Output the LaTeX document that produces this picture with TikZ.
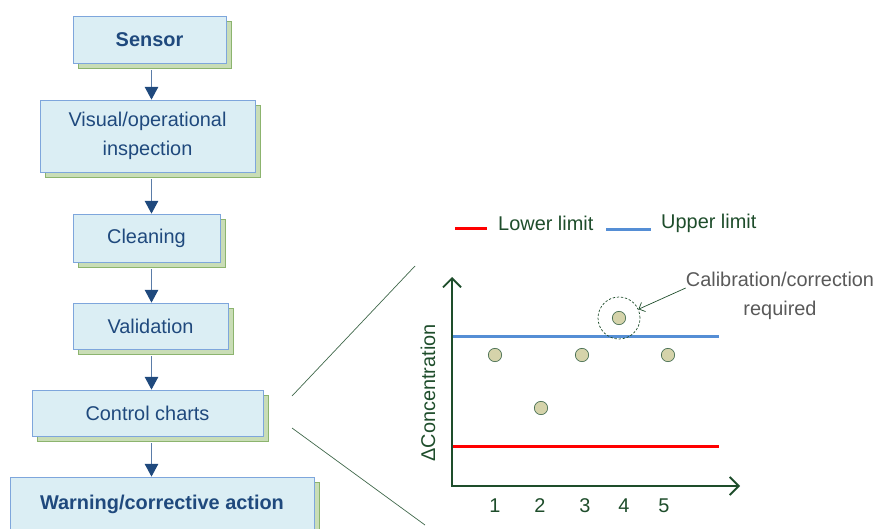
\documentclass[tikz,border=0pt]{standalone}
\usepackage{fontspec}
\setmainfont{Liberation Sans}
\usepackage{xcolor}
\definecolor{boxfill}{HTML}{DBEEF4}
\definecolor{boxline}{HTML}{7EA6DC}
\definecolor{boxtext}{HTML}{1F497D}
\definecolor{shadowfill}{HTML}{C9DDB6}
\definecolor{shadowline}{HTML}{8CB46E}
\definecolor{arrowline}{HTML}{5A7CA8}
\definecolor{axisgreen}{HTML}{1E4D2B}
\definecolor{upperblue}{HTML}{558ED5}
\definecolor{lowerred}{HTML}{FF0000}
\definecolor{dotfill}{HTML}{D5D3AA}
\definecolor{calloutgray}{HTML}{595959}
\usetikzlibrary{positioning,arrows.meta,shadows,calc}

\begin{document}
\begin{tikzpicture}[x=0.03cm, y=-0.03cm,
      box/.style={draw=boxline, fill=boxfill, line width=0.6pt, align=center, text=boxtext,
                  font=\fontsize{17}{25}\selectfont, inner sep=0pt,
                  copy shadow={shadow xshift=0.15cm, shadow yshift=-0.15cm,
                               fill=shadowfill, draw=shadowline, line width=0.6pt}},
      arr/.style={-{Triangle[length=0.38cm, width=0.4cm, color=boxtext]}, draw=arrowline, line width=1pt},
      axisarr/.style={{Straight Barb[length=0.27cm, width=0.54cm]}-{Straight Barb[length=0.27cm, width=0.54cm]},
                      axisgreen, line width=1.6pt},
      limit/.style={line width=0.09cm},
      dot/.style={circle, draw=axisgreen!80, fill=dotfill, line width=0.6pt, minimum size=0.4cm, inner sep=0pt},
      lbl/.style={font=\fontsize{17}{25}\selectfont, text=axisgreen, inner sep=0pt},
      zoomline/.style={axisgreen!85, line width=0.6pt},
      callarr/.style={-{Straight Barb[length=0.15cm, width=0.3cm]}, axisgreen, line width=0.6pt}]
    \useasboundingbox (0,0) rectangle (877,528);

    % flow chart
    \node[box, font=\fontsize{17}{25}\selectfont\bfseries, minimum width=4.59cm, minimum height=1.41cm]
         (sensor) at (149.5,39.5) {Sensor};
    \node[box, minimum width=6.45cm, minimum height=2.16cm] (visual) at (147.5,136)
         {Visual/operational\\inspection};
    \node[box, minimum width=4.41cm, minimum height=1.44cm] (clean) at (146.5,238) {Cleaning};
    \node[box, minimum width=4.65cm, minimum height=1.38cm] (valid) at (150.5,326) {Validation};
    \node[box, minimum width=6.93cm, minimum height=1.38cm] (ctrl) at (147.5,413) {Control charts};
    \node[box, font=\fontsize{17}{25}\selectfont\bfseries, minimum width=9.12cm, minimum height=1.62cm]
         (warn) at (162,504) {Warning/corrective action};

    \coordinate (ax) at (151.5,0);
    \draw[arr] ([yshift=-0.2cm]sensor.south -| ax) -- (visual.north -| ax);
    \draw[arr] ([yshift=-0.2cm]visual.south -| ax) -- (clean.north -| ax);
    \draw[arr] ([yshift=-0.2cm]clean.south -| ax) -- (valid.north -| ax);
    \draw[arr] ([yshift=-0.2cm]valid.south -| ax) -- (ctrl.north -| ax);
    \draw[arr] ([yshift=-0.2cm]ctrl.south -| ax) -- (warn.north -| ax);

    % zoom lines
    \coordinate (z1a) at (292,396);
    \coordinate (z1b) at (415,266);
    \coordinate (z2a) at (292,428);
    \coordinate (z2b) at (425,525);
    \draw[zoomline] (z1a) -- (z1b);
    \draw[zoomline] (z2a) -- (z2b);

    % legend
    \draw[limit, lowerred] (455,228) -- (487,228);
    \node[lbl, anchor=west] (lower) at (498,223) {Lower limit};
    \draw[limit, upperblue] (606,229) -- (651,229);
    \node[lbl, anchor=west] (upper) at (661,223) {Upper limit};

    % chart
    \coordinate (o) at (452,486);
    \coordinate (ytop) at (452,277);
    \coordinate (xend) at (740,486);
    \draw[limit, upperblue] (452,336) -- (719,336);
    \draw[limit, lowerred] (452,446) -- (719,446);
    \draw[axisarr] (ytop) -- (o) -- (xend);
    \node[lbl, rotate=90] (ylab) at (428,393) {ΔConcentration};

    \node[lbl] (t1) at (495,506) {1};
    \node[lbl] (t2) at (540,506) {2};
    \node[lbl] (t3) at (585,506) {3};
    \node[lbl] (t4) at (624,506) {4};
    \node[lbl] (t5) at (664,506) {5};

    \node[dot] (p1) at (495,355) {};
    \node[dot] (p2) at (541,408) {};
    \node[dot] (p3) at (582,355) {};
    \node[dot] (p4) at (619,318) {};
    \node[dot] (p5) at (668,355) {};

    \node[circle, draw=axisgreen, dash pattern=on 2pt off 1.5pt, line width=0.6pt, minimum size=1.26cm, inner sep=0pt]
         (flag) at (619,318) {};
    \node[lbl, text=calloutgray, align=center] (callout) at (780,296)
         {Calibration/correction\\required};
    \draw[callarr] ([yshift=0.24cm]callout.west) -- (flag);
  \end{tikzpicture}
\end{document}
